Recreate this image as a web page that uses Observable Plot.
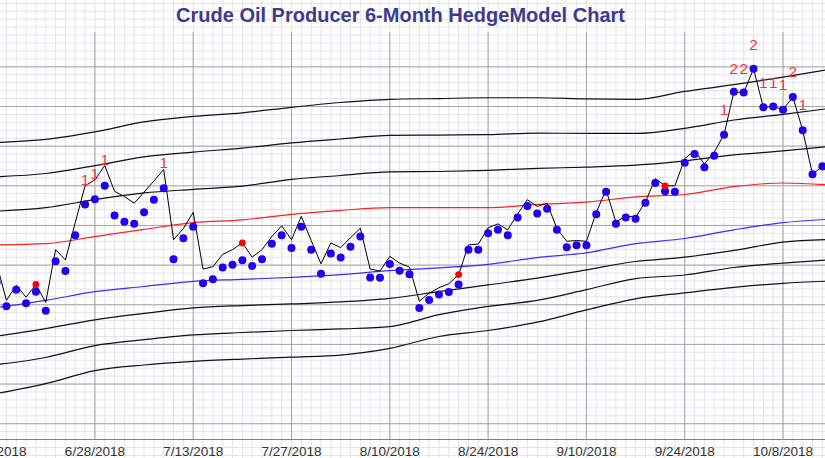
<!DOCTYPE html>
<html><head><meta charset="utf-8">
<script src="https://cdn.jsdelivr.net/npm/d3@7"></script>
<script src="https://cdn.jsdelivr.net/npm/@observablehq/plot@0.6"></script>
<style>
html,body{margin:0;padding:0;background:#fff;}
#chart{width:825px;height:458px;overflow:hidden;position:relative;}
</style></head><body><div id="chart"></div>
<script>
const title = "Crude Oil Producer 6-Month HedgeModel Chart";

// x = trading-day index, 0 = 6/14/2018
const tickIdx = [0, 10, 20, 30, 40, 50, 60, 70, 80];
const tickLabels = ["6/14/2018","6/28/2018","7/13/2018","7/27/2018","8/10/2018","8/24/2018","9/10/2018","9/24/2018","10/8/2018"];

// model points (blue dots), one per trading day
const dotVals = [23.56,22.96,23.38,23.04,23.33,22.85,24.10,23.85,24.75,25.53,
 25.66,26.00,25.25,25.09,25.04,25.33,25.65,25.94,24.15,24.68,
 24.97,23.54,23.64,23.94,24.01,24.12,23.98,24.15,24.54,24.75,
 24.43,24.97,24.39,23.78,24.29,24.19,24.46,24.72,23.69,23.68,
 24.03,23.86,23.77,22.92,23.12,23.26,23.32,23.51,24.39,24.39,
 24.80,24.89,24.75,25.20,25.49,25.30,25.42,24.89,24.45,24.50,
 24.50,25.28,25.85,25.04,25.20,25.17,25.57,26.07,25.86,25.85,
 26.58,26.80,26.47,26.76,27.29,28.37,28.35,28.95,27.98,28.00,
 27.92,28.24,27.40,26.29,26.49];

// price line (black)
const lineVals = [24.04,23.11,23.49,23.19,23.51,23.06,24.39,24.13,25.07,26.00,
 26.15,26.51,25.86,25.73,25.56,25.84,26.12,26.41,24.64,24.92,
 25.33,23.90,23.96,24.27,24.39,24.56,24.20,24.39,24.72,24.99,
 24.64,25.23,24.62,24.03,24.56,24.44,24.69,24.93,23.90,23.85,
 24.22,24.05,23.95,23.09,23.29,23.43,23.53,23.76,24.51,24.53,
 24.94,25.04,24.89,25.29,25.65,25.48,25.56,24.92,24.60,24.62,
 24.60,25.33,25.90,25.08,25.24,25.21,25.59,26.18,26.00,26.00,
 26.68,26.89,26.55,26.85,27.29,28.37,28.35,28.95,27.98,28.00,
 27.92,28.24,27.40,26.29,26.49];

// red markers on the price line
const markerIdx = [4, 25, 47, 68];

// signal labels
const labelIdx  = [9, 10, 11, 17, 74, 75, 76, 77, 78, 79, 80, 81, 82];
const labelText = ["1","1","1","1","1","2","2","2","1","1","1","2","1"];
const labelVal  = [26.15,26.30,26.64,26.57,27.92,28.95,28.95,29.56,28.59,28.59,28.55,28.87,28.03];

// band curves sampled every 5 trading days
const bandIdx = [0,5,10,15,20,25,30,35,40,45,50,55,60,65,70,75,80,85];
const band1 = [27.09,27.17,27.36,27.61,27.75,27.84,27.98,28.10,28.18,28.20,28.22,28.22,28.19,28.18,28.38,28.55,28.74,28.95];
const band2 = [26.23,26.31,26.51,26.73,26.85,26.95,27.08,27.18,27.27,27.28,27.29,27.33,27.32,27.32,27.45,27.66,27.80,27.96];
const band3 = [25.36,25.45,25.65,25.82,25.91,25.99,26.16,26.26,26.35,26.36,26.39,26.44,26.47,26.52,26.63,26.78,26.88,27.00];
const bandRed = [24.51,24.54,24.72,24.90,25.07,25.14,25.28,25.38,25.45,25.45,25.45,25.53,25.59,25.72,25.78,25.98,26.07,26.02];
const bandBlue = [22.93,23.11,23.33,23.46,23.59,23.64,23.69,23.76,23.86,23.93,24.02,24.19,24.31,24.54,24.67,24.89,25.07,25.16];
const band6 = [22.21,22.40,22.62,22.78,22.92,22.98,23.02,23.07,23.16,23.33,23.50,23.67,23.88,24.09,24.20,24.37,24.58,24.65];
const band7 = [21.49,21.67,21.97,22.12,22.24,22.30,22.35,22.39,22.45,22.75,22.96,23.11,23.38,23.66,23.75,23.94,24.05,24.14];
const band8 = [20.76,21.01,21.34,21.48,21.57,21.63,21.68,21.73,21.90,22.20,22.35,22.56,22.87,23.15,23.30,23.44,23.54,23.60];

const xDomain = [0.397, 84.32];
const yDomain = [19.6015, 29.866];
const majorY = d3.range(20, 30);
const minorY = d3.range(96, 155).map(k => k / 5);
const minorX = d3.range(0, 86);

const rows = dotVals.map((v, i) => ({i, dot: v, close: lineVals[i]}));
const bandLine = (vals, stroke, sw) =>
  Plot.line(bandIdx.map((i, k) => ({i, v: vals[k]})), {x: "i", y: "v", stroke, strokeWidth: sw, curve: "monotone-x"});

const chart = Plot.plot({
  width: 825, height: 458,
  marginLeft: 0, marginRight: 0, marginTop: 32, marginBottom: 19,
  x: {domain: xDomain, axis: null},
  y: {domain: yDomain, axis: null},
  style: {background: "#fff", fontFamily: "Arial, 'Liberation Sans', sans-serif"},
  marks: [
    Plot.ruleX(minorX, {x: d => d, y1: 19.0, y2: 31.0, stroke: "#e3e3ed", strokeWidth: 1}),
    Plot.ruleY(minorY, {y: d => d, stroke: "#e3e3ed", strokeWidth: 1}),
    Plot.ruleY(majorY, {y: d => d, stroke: "#a6a6a6", strokeWidth: 1}),
    Plot.ruleX(tickIdx, {x: d => d, stroke: "#a6a6a6", strokeWidth: 1}),
    Plot.ruleY([yDomain[0]], {stroke: "#808080", strokeWidth: 1}),
    bandLine(band1, "#111", 1.2),
    bandLine(band2, "#111", 1.2),
    bandLine(band3, "#111", 1.2),
    bandLine(bandRed, "#ff2020", 1.2),
    bandLine(bandBlue, "#3a2cff", 1.2),
    bandLine(band6, "#111", 1.2),
    bandLine(band7, "#111", 1.2),
    bandLine(band8, "#111", 1.2),
    Plot.line(rows, {x: "i", y: "close", stroke: "#000", strokeWidth: 1}),
    Plot.dot(rows, {x: "i", y: "dot", r: 4, fill: "#2200ee", stroke: "none"}),
    Plot.dot(markerIdx, {x: d => d, y: d => lineVals[d], r: 3.4, fill: "#ff0000", stroke: "none"}),
    Plot.text(labelIdx, {x: d => d, y: (d, i) => labelVal[i], text: (d, i) => labelText[i], fill: "#ff3333", fontSize: 15.5, lineAnchor: "middle"}),
    Plot.text(tickIdx, {x: d => d, text: (d, i) => tickLabels[i], frameAnchor: "bottom", lineAnchor: "middle", dy: 12, fontSize: 13.5, fill: "#333"}),
    Plot.text([title], {frameAnchor: "top", lineAnchor: "middle", dx: -12.5, dy: -17, fontSize: 20, fontWeight: "bold", fill: "#3c3c8c"})
  ]
});
document.getElementById("chart").appendChild(chart);
</script>
</body></html>
